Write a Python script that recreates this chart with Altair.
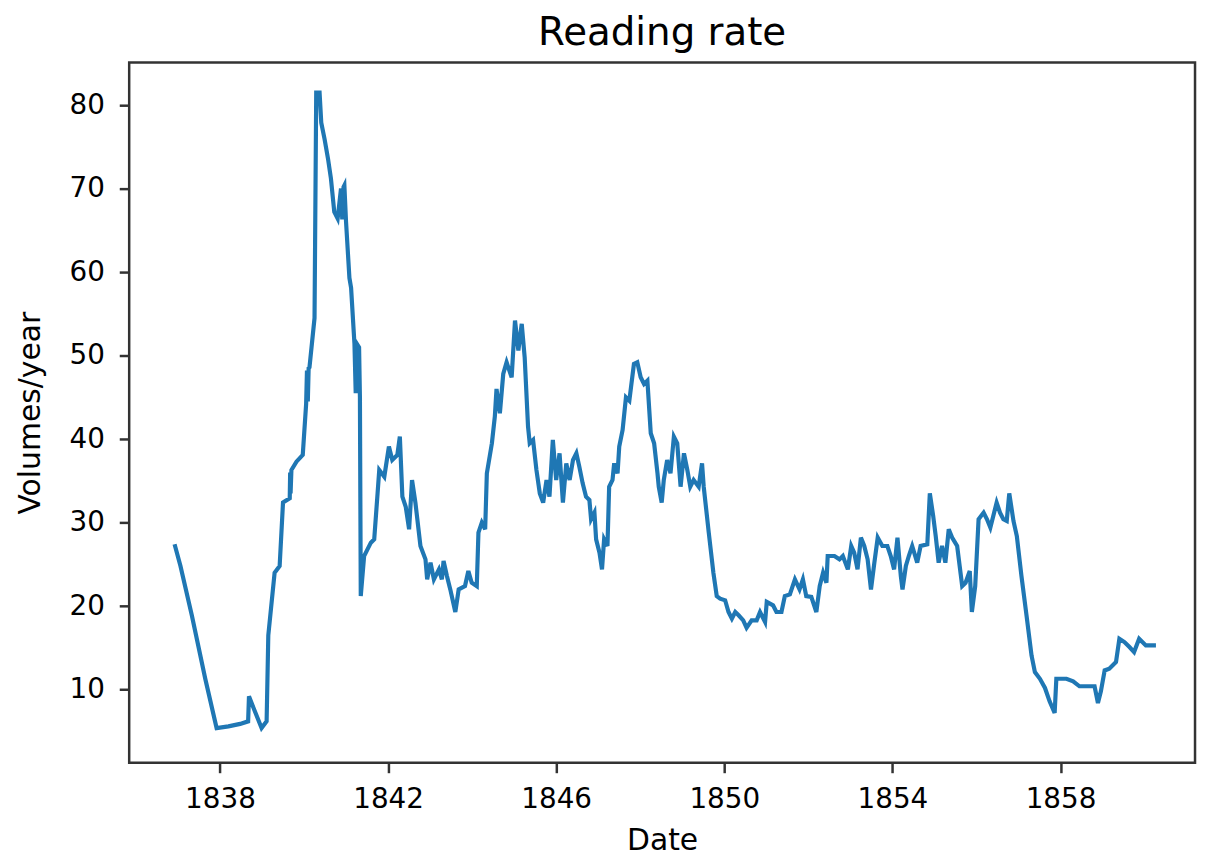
import altair as alt
import pandas as pd

years = [
    1836.92, 1837.06, 1837.33, 1837.65, 1837.92, 1838.20, 1838.48, 1838.67, 1838.69, 1838.83,
    1838.99, 1839.11, 1839.15, 1839.30, 1839.42, 1839.50, 1839.66, 1839.67, 1839.68, 1839.70,
    1839.82, 1839.97, 1840.05, 1840.07, 1840.09, 1840.11, 1840.13, 1840.25, 1840.29, 1840.37,
    1840.41, 1840.49, 1840.57, 1840.64, 1840.72, 1840.80, 1840.88, 1840.91, 1840.94, 1840.96,
    1841.00, 1841.08, 1841.12, 1841.20, 1841.23, 1841.26, 1841.31, 1841.33, 1841.35, 1841.43,
    1841.59, 1841.67, 1841.75, 1841.79, 1841.91, 1842.02, 1842.10, 1842.22, 1842.28, 1842.34,
    1842.42, 1842.50, 1842.57, 1842.65, 1842.77, 1842.89, 1842.93, 1843.01, 1843.09, 1843.21,
    1843.28, 1843.32, 1843.40, 1843.48, 1843.60, 1843.68, 1843.83, 1843.91, 1843.99, 1844.11,
    1844.15, 1844.23, 1844.31, 1844.35, 1844.47, 1844.54, 1844.58, 1844.66, 1844.74, 1844.82,
    1844.94, 1845.02, 1845.10, 1845.18, 1845.25, 1845.33, 1845.37, 1845.45, 1845.53, 1845.61,
    1845.69, 1845.77, 1845.84, 1845.92, 1846.00, 1846.08, 1846.16, 1846.24, 1846.32, 1846.40,
    1846.48, 1846.55, 1846.63, 1846.71, 1846.79, 1846.83, 1846.91, 1846.95, 1847.03, 1847.09,
    1847.14, 1847.22, 1847.26, 1847.34, 1847.38, 1847.46, 1847.50, 1847.58, 1847.66, 1847.74,
    1847.78, 1847.85, 1847.93, 1848.01, 1848.09, 1848.17, 1848.25, 1848.33, 1848.41, 1848.44,
    1848.51, 1848.56, 1848.64, 1848.72, 1848.80, 1848.88, 1848.96, 1849.04, 1849.12, 1849.19,
    1849.27, 1849.39, 1849.47, 1849.51, 1849.63, 1849.74, 1849.82, 1849.90, 1850.02, 1850.10,
    1850.18, 1850.26, 1850.34, 1850.45, 1850.53, 1850.65, 1850.77, 1850.85, 1850.97, 1851.01,
    1851.16, 1851.24, 1851.36, 1851.44, 1851.56, 1851.68, 1851.79, 1851.87, 1851.95, 1852.07,
    1852.19, 1852.27, 1852.35, 1852.43, 1852.46, 1852.62, 1852.74, 1852.82, 1852.94, 1853.02,
    1853.09, 1853.17, 1853.25, 1853.33, 1853.41, 1853.49, 1853.57, 1853.65, 1853.76, 1853.88,
    1853.96, 1854.04, 1854.12, 1854.20, 1854.24, 1854.32, 1854.39, 1854.47, 1854.59, 1854.67,
    1854.83, 1854.89, 1854.97, 1855.03, 1855.10, 1855.18, 1855.26, 1855.34, 1855.42, 1855.54,
    1855.66, 1855.74, 1855.84, 1855.89, 1855.97, 1856.05, 1856.17, 1856.25, 1856.33, 1856.40,
    1856.48, 1856.56, 1856.64, 1856.72, 1856.78, 1856.88, 1856.96, 1857.07, 1857.19, 1857.31,
    1857.39, 1857.51, 1857.63, 1857.74, 1857.86, 1857.90, 1858.14, 1858.30, 1858.45, 1858.81,
    1858.89, 1858.96, 1859.05, 1859.16, 1859.32, 1859.40, 1859.52, 1859.64, 1859.75, 1859.87,
    1860.03, 1860.27,
]

rates = [
    27.4, 24.8, 18.9, 11.3, 5.4, 5.6, 5.9, 6.2, 9.2, 7.4,
    5.4, 6.2, 16.5, 24.0, 24.8, 32.4, 32.9, 36.0, 33.5, 36.3,
    37.3, 38.1, 44.2, 48.2, 44.5, 48.5, 48.6, 54.5, 81.5, 81.5,
    77.9, 75.9, 73.6, 71.2, 67.2, 66.4, 70.0, 66.3, 70.2, 70.4,
    66.0, 59.3, 58.1, 51.4, 45.5, 51.4, 51.0, 45.0, 21.2, 26.0,
    27.6, 28.0, 33.5, 36.3, 35.5, 39.1, 37.5, 38.1, 40.3, 33.1,
    31.9, 29.2, 35.1, 32.4, 27.2, 25.6, 23.2, 25.2, 23.2, 24.4,
    23.2, 25.4, 23.6, 22.0, 19.3, 22.0, 22.4, 24.2, 22.8, 22.4,
    28.8, 30.0, 29.2, 35.9, 39.5, 42.7, 46.0, 43.1, 47.8, 49.2,
    47.4, 54.2, 50.6, 53.8, 49.8, 41.5, 39.5, 39.9, 36.3, 33.5,
    32.4, 35.1, 33.1, 39.9, 35.1, 38.3, 32.4, 37.1, 35.1, 37.5,
    38.3, 36.7, 34.7, 33.1, 32.7, 30.4, 31.2, 28.0, 26.4, 24.4,
    28.0, 27.2, 34.3, 35.1, 37.1, 35.9, 39.1, 41.1, 45.0, 44.6,
    46.2, 49.0, 49.2, 47.4, 46.6, 47.0, 40.7, 39.5, 35.9, 34.3,
    32.4, 35.1, 37.5, 35.9, 40.3, 39.5, 34.3, 38.3, 36.3, 34.3,
    35.1, 34.3, 37.1, 34.3, 28.8, 24.0, 21.2, 20.9, 20.7, 19.3,
    18.5, 19.3, 18.9, 18.3, 17.4, 18.3, 18.3, 19.3, 18.1, 20.5,
    20.1, 19.3, 19.3, 21.2, 21.4, 23.2, 22.0, 23.2, 21.2, 21.1,
    19.3, 22.4, 24.0, 22.8, 26.0, 26.0, 25.6, 26.0, 24.4, 27.2,
    26.4, 24.4, 28.2, 27.2, 25.6, 22.0, 25.2, 28.2, 27.2, 27.2,
    26.0, 24.4, 28.2, 23.6, 22.0, 24.8, 26.0, 27.2, 25.2, 27.2,
    27.4, 33.5, 30.8, 28.4, 25.2, 27.2, 25.2, 29.2, 28.2, 27.2,
    22.4, 22.8, 24.2, 19.3, 22.4, 30.4, 31.2, 30.4, 29.4, 30.8,
    32.4, 31.2, 30.4, 30.2, 33.5, 30.2, 28.4, 23.6, 18.9, 14.1,
    12.1, 11.3, 10.2, 8.6, 7.2, 11.3, 11.3, 11.0, 10.4, 10.4,
    8.4, 9.8, 12.3, 12.5, 13.3, 16.1, 15.7, 15.1, 14.5, 16.1,
    15.3, 15.3,
]

x_ticks = [1838, 1842, 1846, 1850, 1854, 1858]
y_ticks = [10, 20, 30, 40, 50, 60, 70, 80]

df = pd.DataFrame({"Date": years, "Rate": rates})

FONT = "DejaVu Sans"

chart = (
    alt.Chart(df)
    .mark_line(color="#1f77b4", strokeWidth=4.2, strokeJoin="miter", clip=True)
    .encode(
        x=alt.X(
            "Date:Q",
            scale=alt.Scale(domain=[1835.84, 1861.20], nice=False, zero=False),
            axis=alt.Axis(
                values=x_ticks,
                format="d",
                title="Date",
                grid=False,
                domain=False,
                tickSize=10,
                tickWidth=2.5,
                tickColor="#333333",
                labelFont=FONT,
                labelFontSize=28,
                labelColor="#000000",
                labelPadding=13,
                titleFont=FONT,
                titleFontSize=30,
                titleFontWeight="normal",
                titleColor="#000000",
                titlePadding=12,
            ),
        ),
        y=alt.Y(
            "Rate:Q",
            scale=alt.Scale(domain=[1.24, 85.1], nice=False, zero=False),
            axis=alt.Axis(
                values=y_ticks,
                title="Volumes/year",
                grid=False,
                domain=False,
                tickSize=10,
                tickWidth=2.5,
                tickColor="#333333",
                labelFont=FONT,
                labelFontSize=28,
                labelColor="#000000",
                labelPadding=15,
                titleFont=FONT,
                titleFontSize=30,
                titleFontWeight="normal",
                titleColor="#000000",
                titlePadding=24,
            ),
        ),
    )
    .properties(
        width=1073,
        height=705,
        background="#ffffff",
        title=alt.TitleParams(
            "Reading rate",
            font=FONT,
            fontSize=39,
            fontWeight="normal",
            color="#000000",
            anchor="middle",
            offset=10,
        ),
        autosize=alt.AutoSizeParams(type="none"),
        padding={"left": 122, "top": 52, "right": 4, "bottom": 92},
    )
    .configure_view(stroke="#333333", strokeWidth=2.5)
)

chart.save("out.html", embed_options={"renderer": "svg", "actions": False})
